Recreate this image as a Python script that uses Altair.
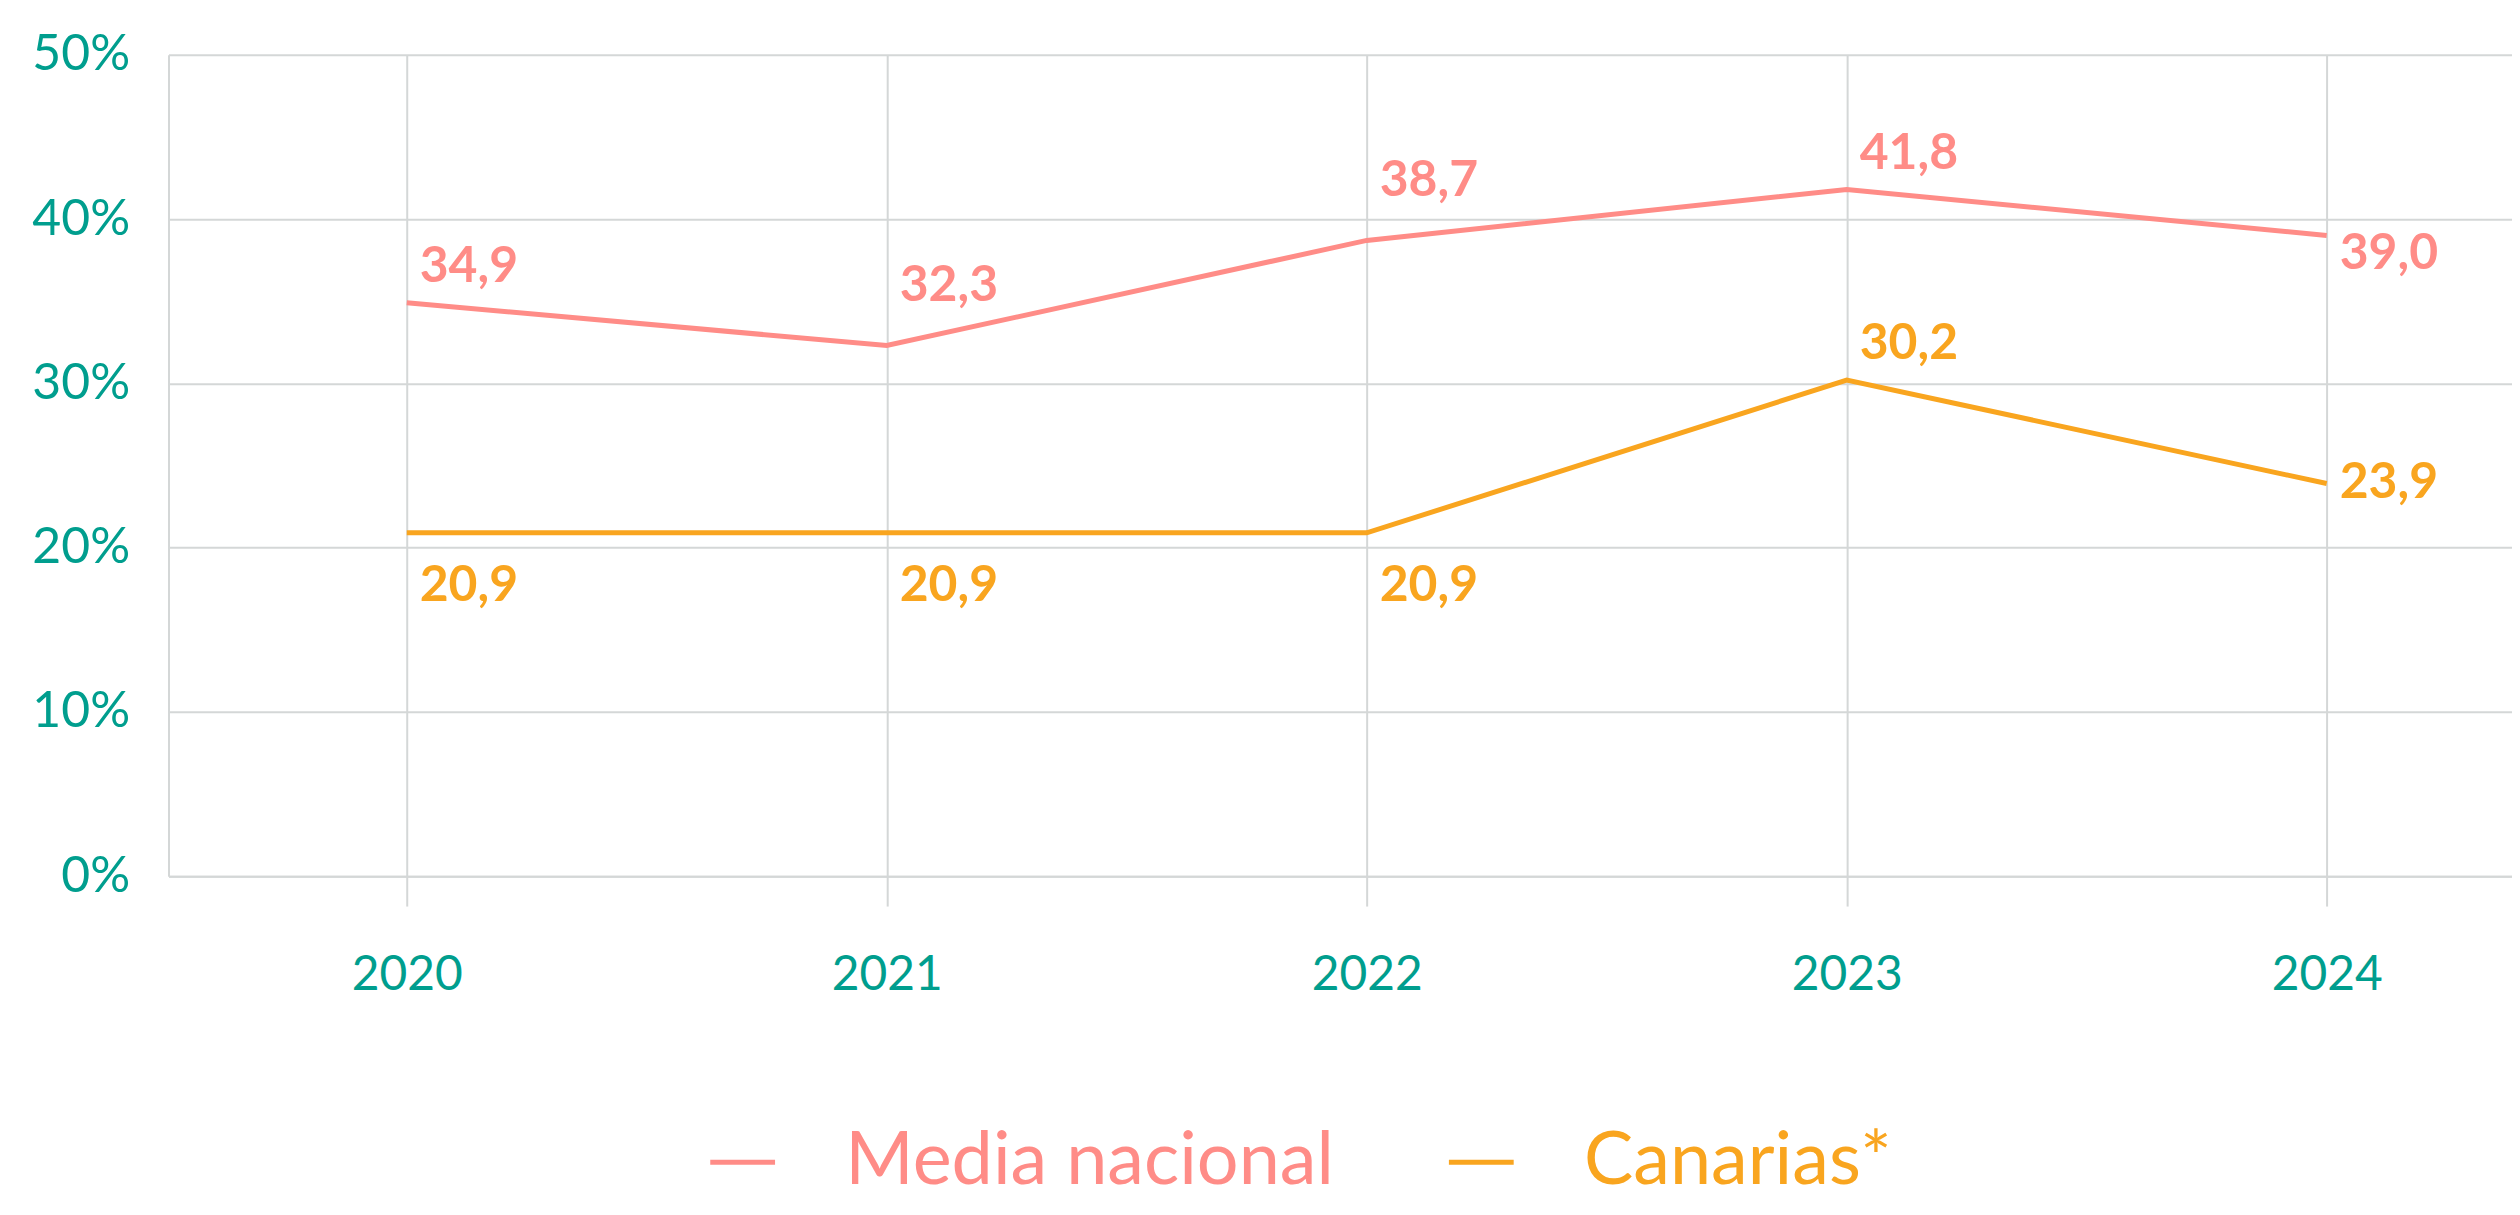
import altair as alt
import pandas as pd

years = [2020, 2021, 2022, 2023, 2024]
media_nacional = [34.9, 32.3, 38.7, 41.8, 39.0]
canarias = [20.9, 20.9, 20.9, 30.2, 23.9]
series_names = ["Media nacional", "Canarias*"]
series_colors = ["#FF8C87", "#F9A51F"]
media_label_pos = ["arriba", "arriba+", "arriba+", "arriba", "derecha_abajo"]
canarias_label_pos = ["abajo", "abajo", "abajo", "arriba", "derecha"]
y_ticks = [0, 10, 20, 30, 40, 50]

rows = []
for name, vals, poss in [(series_names[0], media_nacional, media_label_pos),
                         (series_names[1], canarias, canarias_label_pos)]:
    for yr, v, p in zip(years, vals, poss):
        rows.append({"año": yr, "serie": name, "valor": v, "pos": p,
                     "etiqueta": f"{v:.1f}".replace(".", ",")})
df = pd.DataFrame(rows)

TEAL = "#009E8E"
GRID = "#D4D7D7"
FONT = "Lato"

x = alt.X("año:Q",
          scale=alt.Scale(domain=[2019.5036, 2024.386], nice=False, zero=False),
          axis=alt.Axis(values=years, format="d", title=None, grid=True,
                        gridColor=GRID, gridWidth=2, tickSize=30, tickColor=GRID,
                        tickWidth=2, domainColor=GRID, domainWidth=2,
                        labelColor=TEAL, labelFontSize=48, labelFont=FONT,
                        labelPadding=46))
y = alt.Y("valor:Q",
          scale=alt.Scale(domain=[0, 50], nice=False),
          axis=alt.Axis(values=y_ticks, labelExpr="datum.value + '%'", title=None,
                        grid=True, gridColor=GRID, gridWidth=2, ticks=False,
                        tickSize=0, domainColor=GRID, domainWidth=2,
                        labelColor=TEAL, labelFontSize=50, labelFont=FONT,
                        labelPadding=39))

color_scale = alt.Scale(domain=series_names, range=series_colors)

legend = alt.Legend(
    title=None, orient="none", legendX=539, legendY=1074, direction="horizontal",
    symbolType="stroke", symbolSize=4225, symbolStrokeWidth=5,
    labelFontSize=74, labelFont=FONT, labelOffset=66, columnPadding=104,
    labelLimit=2000,
    labelColor=alt.ExprRef(expr="datum.label == 'Media nacional' ? '#FF8C87' : '#F9A51F'"),
)

base = alt.Chart(df)

lines = base.mark_line(strokeWidth=5).encode(
    x=x, y=y,
    color=alt.Color("serie:N", scale=color_scale, legend=legend),
)

offsets = {"arriba": -36, "arriba+": -60, "abajo": 53, "derecha_abajo": 19, "derecha": 0}
label_layers = []
for pos, dy in offsets.items():
    label_layers.append(
        base.transform_filter(alt.datum.pos == pos).mark_text(
            align="left", baseline="middle", dx=13, dy=dy,
            font=FONT, fontSize=50, fontWeight="bold",
        ).encode(
            x=x, y=y, text="etiqueta:N",
            color=alt.Color("serie:N", scale=color_scale, legend=None),
        )
    )

chart = alt.layer(lines, *label_layers).properties(
    width=2351, height=824,
    autosize=alt.AutoSizeParams(type="none"),
    padding={"left": 161, "top": 45, "right": 0, "bottom": 338},
).configure_view(stroke=None)

chart.save("out.html", embed_options={"renderer": "svg", "actions": False})
